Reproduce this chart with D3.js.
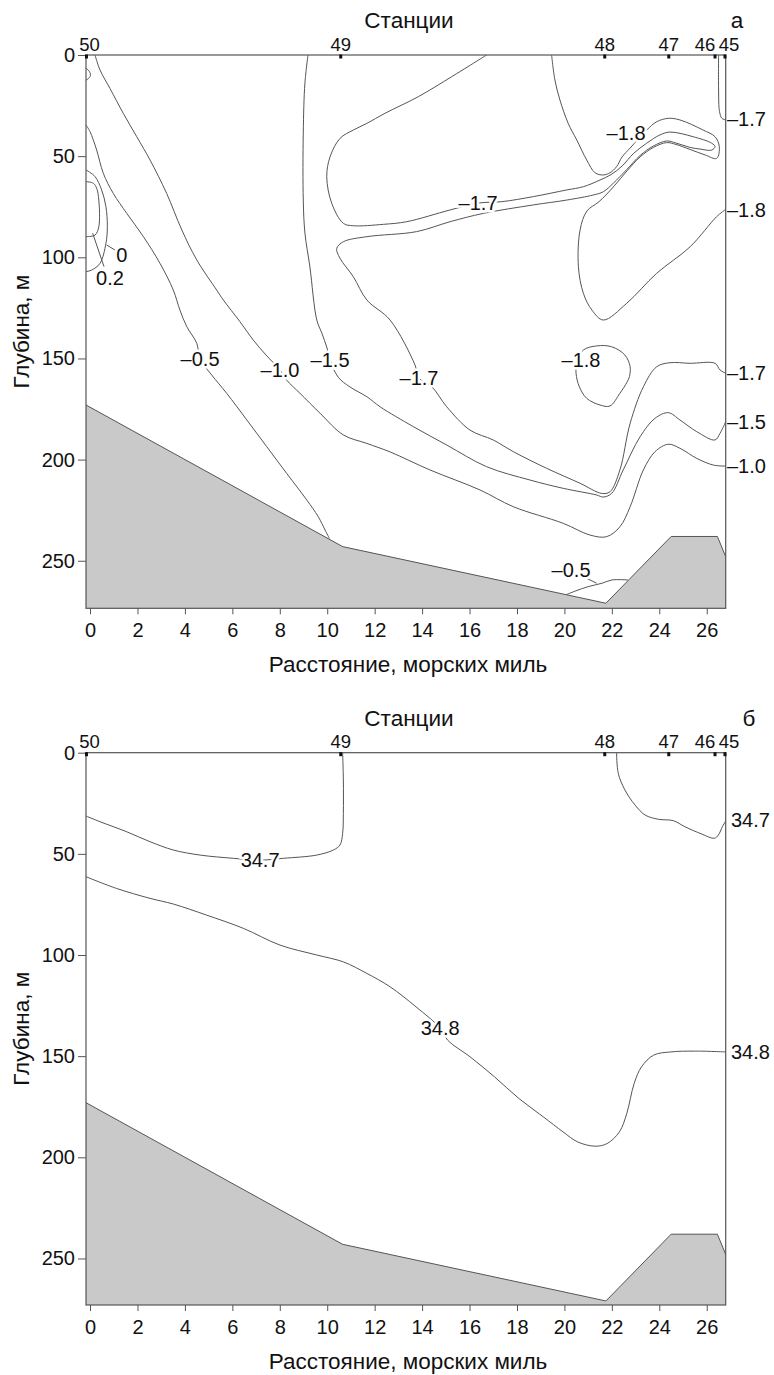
<!DOCTYPE html>
<html>
<head>
<meta charset="utf-8">
<script src="https://cdn.jsdelivr.net/npm/d3@7"></script>
<style>
  body { margin: 0; background: #fff; }
  text { font-family: "Liberation Sans", Arial, sans-serif; fill: #111; }
</style>
</head>
<body>
<div id="chart"></div>
<script>

// stations along the section
var stationNames = ["50", "49", "48", "47", "46", "45"];
var stationMiles = [-0.15, 10.57, 21.7, 24.4, 26.35, 26.77];

// tick labels
var xTicks = [0, 2, 4, 6, 8, 10, 12, 14, 16, 18, 20, 22, 24, 26];
var depthTicks = [0, 50, 100, 150, 200, 250];

// sea floor (distance, depth)
var floorMiles = [-0.17, 10.65, 21.75, 24.5, 26.45, 26.8];
var floorDepths = [173, 243, 271, 238, 238, 248];

// ---- panel a: temperature isolines, [distance, depth] ----
var tLoopTop = [[-0.17, 6.5], [-0.05, 7.8], [0.02, 9.8], [-0.06, 11.6], [-0.17, 12.4]];
var tPlus02 = [[-0.17, 62.6], [0.14, 63.4], [0.28, 65.9], [0.37, 71.7], [0.37, 84.9], [0.21, 89.0], [-0.17, 89.8]];
var tZero = [[-0.17, 56.8], [0.21, 60.1], [0.49, 66.7], [0.67, 75.0], [0.73, 84.9], [0.67, 93.1], [0.42, 103.0], [0.07, 106.3], [-0.17, 107.1]];
var tMinus05 = [[-0.17, 34.6], [0.0, 37.9], [0.28, 47.0], [0.56, 58.5], [0.98, 68.4], [1.55, 78.3], [2.25, 89.8], [2.95, 103.0],
  [3.51, 116.2], [3.79, 126.1], [4.08, 134.3], [4.50, 142.5], [4.64, 150.3], [5.13, 158.2], [5.76, 167.2], [6.61, 180.4],
  [7.45, 193.6], [8.29, 206.8], [9.14, 220.0], [9.62, 228.2], [9.91, 234.8], [10.09, 238.9]];
var tMinus10 = [[0.21, 0], [0.42, 7.4], [0.84, 16.5], [1.40, 28.8], [1.97, 40.4], [2.53, 51.9], [3.23, 68.4], [3.87, 86.5],
  [4.50, 101.3], [5.34, 116.2], [5.62, 121.1], [6.32, 131.8], [6.88, 140.9], [7.42, 148.3], [8.01, 155.7], [8.29, 160.7],
  [8.85, 167.2], [9.70, 177.1], [10.68, 187.8], [11.67, 192.0], [12.65, 196.2], [14.33, 205.1], [16.44, 215.0],
  [17.85, 223.3], [19.95, 231.5], [21.08, 237.3], [21.78, 238.1], [22.34, 233.2], [22.77, 223.3], [23.33, 205.1],
  [23.82, 196.1], [24.38, 192.4], [24.87, 194.4], [25.58, 199.4], [26.28, 202.7], [26.8, 203.2]];
var tMinus15 = [[9.19, 0], [9.06, 13.8], [8.99, 38.6], [8.99, 71.7], [9.06, 88.0], [9.27, 104.8], [9.56, 131.0], [9.77, 137.4],
  [9.99, 144.8], [10.12, 150.8], [10.46, 159.2], [10.96, 164.1], [11.67, 168.9], [12.23, 173.9], [13.63, 183.7],
  [15.04, 192.8], [16.72, 203.5], [18.55, 210.1], [19.95, 214.2], [21.36, 217.5], [21.63, 218.5], [21.99, 216.7],
  [22.48, 205.1], [23.19, 188.7], [23.82, 179.6], [24.38, 176.8], [24.87, 180.4], [25.58, 186.2], [26.35, 190.3],
  [26.56, 187.0], [26.8, 181.3]];
var tMinus17 = [[16.72, 0], [15.25, 10.7], [13.84, 20.6], [12.44, 28.8], [11.67, 33.8], [11.10, 37.1], [10.54, 41.2],
  [10.12, 50.3], [9.98, 60.2], [10.19, 73.3], [10.68, 83.2], [11.10, 84.4], [12.37, 83.7], [13.35, 82.4], [15.18, 76.6],
  [16.36, 73.2], [17.36, 72.5], [18.69, 70.0], [20.10, 66.7], [20.80, 65.1], [21.50, 61.8], [21.97, 59.1], [22.43, 54.9],
  [22.92, 48.6], [23.47, 43.6], [24.03, 39.5], [24.45, 38.1], [25.43, 40.4], [26.21, 43.6], [26.35, 45.3], [26.21, 47.0],
  [25.72, 46.5], [25.30, 45.7], [24.70, 43.5], [24.31, 42.5], [23.75, 45.0], [23.19, 49.7], [22.63, 56.6], [22.06, 63.4],
  [21.64, 67.6], [21.22, 69.2], [20.10, 71.7], [18.69, 74.1], [16.58, 78.3], [15.18, 82.4], [13.77, 87.3], [11.67, 89.8],
  [10.68, 92.3], [10.40, 95.6], [10.54, 100.5], [11.10, 109.6], [11.67, 121.1], [12.65, 131.0], [13.70, 153.2],
  [13.87, 159.7], [14.41, 164.0], [15.04, 173.9], [16.02, 185.4], [17.00, 190.3], [17.85, 196.1], [19.25, 204.3],
  [20.66, 211.7], [21.57, 216.7], [21.92, 215.9], [22.34, 205.1], [22.77, 182.1], [23.33, 164.0], [23.89, 154.1],
  [24.45, 152.1], [25.30, 152.4], [26.35, 152.4], [26.56, 155.7], [26.8, 157.3]];
var tMinus17Edge = [[26.50, 0], [26.50, 17.3], [26.54, 28.0], [26.64, 31.3], [26.8, 32.1]];
var tMinus18 = [[19.46, 0], [19.60, 12.4], [19.81, 22.2], [20.16, 33.8], [20.52, 42.0], [20.94, 51.9], [21.29, 58.2],
  [21.64, 59.3], [21.92, 58.2], [22.20, 55.2], [22.43, 50.4], [22.77, 46.0], [23.47, 37.1], [23.89, 33.0], [24.38, 31.3],
  [24.87, 32.1], [25.85, 37.1], [26.35, 40.4], [26.53, 45.3], [26.42, 51.1], [25.93, 49.4], [25.30, 46.7], [24.70, 44.2],
  [24.31, 43.3], [23.75, 45.7], [23.19, 50.4], [22.64, 57.3], [22.13, 64.3], [21.75, 69.2], [21.42, 72.9], [20.95, 77.1],
  [20.66, 86.5], [20.59, 104.6], [20.80, 117.8], [21.16, 126.1], [21.64, 131.0], [22.63, 122.7], [23.89, 107.9],
  [25.30, 94.8], [26.42, 79.9], [26.8, 76.3]];
var tMinus18Ring = [[20.52, 150.8], [20.80, 145.8], [21.36, 143.8], [21.99, 144.2], [22.55, 148.3], [22.77, 154.1],
  [22.74, 159.0], [22.65, 161.5], [22.34, 167.2], [21.92, 173.5], [21.50, 173.0], [20.94, 169.7], [20.63, 164.0],
  [20.49, 157.3], [20.52, 150.8]];
var tMinus05Deep = [[20.03, 267.0], [20.45, 265.0], [21.0, 262.8], [21.59, 261.1], [22.0, 259.5], [22.68, 259.5]];
var tLeaders = [[[0.11, 88.1], [0.59, 104.6]], [[0.70, 93.9], [1.05, 96.4]], [[20.94, 258.7], [21.36, 261.1]]];

var tLabelText = ["0.2", "0", "–0.5", "–1.0", "–1.5", "–1.7", "–1.8", "–1.7", "–1.8", "–0.5"];
var tLabelMiles = [0.84, 1.34, 4.64, 8.01, 10.12, 16.36, 22.60, 13.87, 20.70, 20.28];
var tLabelDepths = [110.2, 98.9, 150.3, 155.7, 150.8, 73.2, 38.6, 159.7, 150.8, 254.6];
var tEdgeText = ["–1.7", "–1.8", "–1.7", "–1.5", "–1.0"];
var tEdgeDepths = [31.5, 76.3, 157.3, 181.3, 203.2];

// ---- panel b: salinity isolines ----
var s347Left = [[-0.17, 31.3], [0.42, 34.1], [1.55, 39.1], [2.53, 44.0], [3.51, 48.1], [4.64, 50.6], [6.04, 52.2],
  [7.17, 53.1], [8.15, 52.2], [9.56, 50.6], [10.26, 48.1], [10.54, 45.6], [10.65, 39.9], [10.68, 30.0], [10.68, 13.5],
  [10.65, 0]];
var s347Right = [[22.20, 0], [22.27, 10.2], [22.55, 18.4], [22.98, 25.9], [23.40, 30.8], [23.96, 32.9], [24.59, 33.6],
  [25.08, 36.6], [25.79, 40.2], [26.32, 42.3], [26.49, 40.7], [26.66, 36.6], [26.8, 33.8]];
var s348 = [[-0.17, 61.3], [1.12, 67.1], [2.53, 72.0], [3.51, 74.8], [4.92, 80.3], [6.46, 86.8], [8.01, 95.1], [9.56, 100.0],
  [10.68, 103.4], [11.67, 109.1], [12.65, 115.7], [13.74, 125.6], [14.76, 136.1], [15.08, 142.1], [16.02, 150.3],
  [17.05, 160.2], [18.08, 170.9], [19.11, 180.0], [19.94, 187.4], [20.56, 192.4], [21.29, 194.5], [21.80, 193.2],
  [22.32, 187.4], [22.63, 178.3], [22.94, 163.5], [23.25, 155.3], [23.76, 149.5], [24.49, 147.9], [25.52, 147.5],
  [26.8, 147.9]];
var sLabelText = ["34.7", "34.8"];
var sLabelMiles = [7.17, 14.76];
var sLabelDepths = [53.1, 136.1];
var sEdgeText = ["34.7", "34.8"];
var sEdgeDepths = [33.0, 147.9];

var W = 774, H = 1375;
var svg = d3.select("#chart").append("svg").attr("width", W).attr("height", H);

var x = d3.scaleLinear().domain([-0.17, 26.8]).range([86, 725.7]);

var panels = [
  { top: 55, bottom: 608.3, maxDepth: 273.5, tag: "а", tagX: 737, edgeX: 727,
    lines: [tLoopTop, tPlus02, tZero, tMinus05, tMinus10, tMinus15, tMinus17, tMinus17Edge, tMinus18, tMinus18Ring, tMinus05Deep],
    leaders: tLeaders, labText: tLabelText, labMiles: tLabelMiles, labDepths: tLabelDepths,
    edgeText: tEdgeText, edgeDepths: tEdgeDepths },
  { top: 752.7, bottom: 1305, maxDepth: 273, tag: "б", tagX: 749, edgeX: 731,
    lines: [s347Left, s347Right, s348],
    leaders: [], labText: sLabelText, labMiles: sLabelMiles, labDepths: sLabelDepths,
    edgeText: sEdgeText, edgeDepths: sEdgeDepths }
];

var lineColor = "#555";
var font = "Liberation Sans, Arial, sans-serif";

panels.forEach(function(p) {
  var y = d3.scaleLinear().domain([0, p.maxDepth]).range([p.top, p.bottom]);
  var g = svg.append("g");

  var line = d3.line()
    .x(function(d) { return x(d[0]); })
    .y(function(d) { return y(d[1]); })
    .curve(d3.curveCatmullRom.alpha(0.5));
  var straight = d3.line()
    .x(function(d) { return x(d[0]); })
    .y(function(d) { return y(d[1]); });

  // isolines
  g.selectAll(".iso").data(p.lines).enter().append("path")
    .attr("d", line)
    .attr("fill", "none")
    .attr("stroke", lineColor)
    .attr("stroke-width", 1);

  g.selectAll(".lead").data(p.leaders).enter().append("path")
    .attr("d", straight)
    .attr("fill", "none")
    .attr("stroke", lineColor)
    .attr("stroke-width", 1);

  // sea floor
  var floor = floorMiles.map(function(m, i) { return [m, floorDepths[i]]; });
  var area = d3.area()
    .x(function(d) { return x(d[0]); })
    .y0(y(p.maxDepth))
    .y1(function(d) { return y(d[1]); });
  g.append("path").datum(floor)
    .attr("d", area)
    .attr("fill", "#c9c9c9");
  g.append("path").datum(floor)
    .attr("d", straight)
    .attr("fill", "none")
    .attr("stroke", "#555")
    .attr("stroke-width", 1);

  // frame
  g.append("rect")
    .attr("x", x(-0.17)).attr("y", p.top)
    .attr("width", x(26.8) - x(-0.17)).attr("height", p.bottom - p.top)
    .attr("fill", "none").attr("stroke", "#555").attr("stroke-width", 1.2);

  // isoline labels, white halo breaks the line under them
  g.selectAll(".lab").data(p.labText).enter().append("text")
    .attr("x", function(d, i) { return x(p.labMiles[i]); })
    .attr("y", function(d, i) { return y(p.labDepths[i]); })
    .attr("dy", "0.36em")
    .attr("text-anchor", "middle")
    .attr("font-size", 20)
    .attr("stroke", "#fff").attr("stroke-width", 5)
    .attr("paint-order", "stroke")
    .text(function(d) { return d; });

  g.selectAll(".edge").data(p.edgeText).enter().append("text")
    .attr("x", p.edgeX)
    .attr("y", function(d, i) { return y(p.edgeDepths[i]); })
    .attr("dy", "0.36em")
    .attr("font-size", 20)
    .text(function(d) { return d; });

  // axes
  var ya = g.append("g").attr("transform", "translate(" + x(-0.17) + ",0)")
    .call(d3.axisLeft(y).tickValues(depthTicks).tickSize(8).tickPadding(3));
  var xa = g.append("g").attr("transform", "translate(0," + p.bottom + ")")
    .call(d3.axisBottom(x).tickValues(xTicks).tickSize(6).tickPadding(9));
  [ya, xa].forEach(function(a) {
    a.select(".domain").remove();
    a.selectAll("line").attr("stroke", "#555");
    a.selectAll("text").attr("font-size", 20).attr("font-family", font).attr("fill", "#111");
  });

  // stations
  g.selectAll(".st").data(stationMiles).enter().append("rect")
    .attr("x", function(d) { return x(d) - 1.5; })
    .attr("y", p.top - 0.5)
    .attr("width", 3).attr("height", 4)
    .attr("fill", "#111");
  var nudge = { "50": 3, "46": -10, "45": 4 };
  g.selectAll(".stl").data(stationNames).enter().append("text")
    .attr("x", function(d, i) { return x(stationMiles[i]) + (nudge[d] || 0); })
    .attr("y", p.top - 4.5)
    .attr("text-anchor", "middle")
    .attr("font-size", 18.5)
    .text(function(d) { return d; });

  // titles
  g.append("text").attr("x", 409).attr("y", p.top - 27)
    .attr("text-anchor", "middle").attr("font-size", 22.5).text("Станции");
  g.append("text").attr("x", p.tagX).attr("y", p.top - 27)
    .attr("text-anchor", "middle").attr("font-size", 22.5).text(p.tag);
  g.append("text").attr("x", 408).attr("y", p.bottom + 63.5)
    .attr("text-anchor", "middle").attr("font-size", 22.5).text("Расстояние, морских миль");
  g.append("text")
    .attr("transform", "translate(29," + ((p.top + p.bottom) / 2) + ") rotate(-90)")
    .attr("text-anchor", "middle").attr("font-size", 22.5).text("Глубина, м");
});

</script>
</body>
</html>
